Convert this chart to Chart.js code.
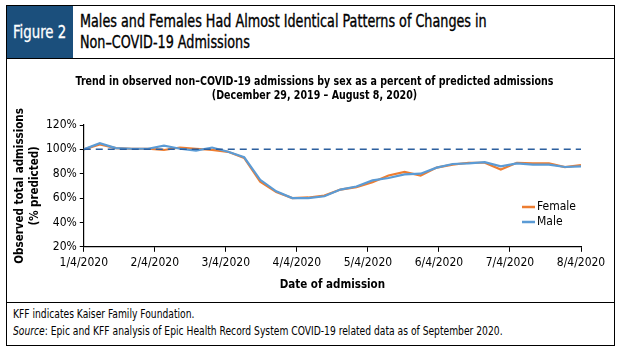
<!DOCTYPE html>
<html>
<head>
<meta charset="utf-8">
<script src="https://cdn.jsdelivr.net/npm/chart.js@4.4.0/dist/chart.umd.min.js"></script>
<style>
  body { margin: 0; background: #fff; font-family: "DejaVu Sans Condensed", "Liberation Sans", Arial, sans-serif; }
  #frame { position: absolute; left: 6px; top: 5px; width: 607px; height: 339px; border: 1px solid #000; }
  #head { position: absolute; left: 0; top: 0; width: 607px; height: 52px; border-bottom: 1px solid #000; }
  #fig { position: absolute; left: 0; top: 0; width: 66px; height: 52px; background: #1b4f7c; color: #fff;
         font-size: 17px; line-height: 52px; text-align: center; -webkit-text-stroke: 0.3px #fff; }
  #fig span { display: inline-block; transform: scaleX(0.87); }
  #title { position: absolute; left: 73px; top: 5px; font-size: 17px; line-height: 21px; color: #000;
           transform: scaleX(0.835); transform-origin: left top; white-space: nowrap; -webkit-text-stroke: 0.35px #000; }
  #wrap { position: absolute; left: 0; top: 53px; width: 607px; height: 243px; }
  #ctitle { position: absolute; left: 4px; top: 15px; width: 607px; text-align: center; font-size: 12px;
            font-weight: bold; line-height: 14px; transform: scaleX(0.88); white-space: nowrap; }
  #foot { position: absolute; left: 0; top: 296px; width: 607px; height: 43px; border-top: 1px solid #000;
          font-size: 12px; line-height: 17px; padding-left: 6px; padding-top: 3px; box-sizing: border-box; }
  #foot div { transform: scaleX(0.85); transform-origin: left center; white-space: nowrap; }
</style>
</head>
<body>
<div id="frame">
  <div id="head">
    <div id="fig"><span>Figure 2</span></div>
    <div id="title">Males and Females Had Almost Identical Patterns of Changes in<br>Non–COVID-19 Admissions</div>
  </div>
  <div id="wrap">
    <canvas id="chart" width="607" height="243"></canvas>
    <div id="ctitle">Trend in observed non–COVID-19 admissions by sex as a percent of predicted admissions<br>(December 29, 2019 – August 8, 2020)</div>
  </div>
  <div id="foot">
    <div>KFF indicates Kaiser Family Foundation.</div>
    <div><i>Source</i>: Epic and KFF analysis of Epic Health Record System COVID-19 related data as of September 2020.</div>
  </div>
</div>
<script>
// Ukentlige verdier, 1/4/2020 - 8/8/2020 (% av forventet)
const female = [100, 104, 101, 100.5, 100.5, 99.5, 101.5, 100.5, 99.5, 98, 93, 73.5, 65, 60, 60.5, 62,
  67, 69, 73, 78.5, 81.5, 78.5, 85, 87.5, 89, 89, 83.5, 89, 88.5, 88.5, 85.5, 87];
const male = [100, 105, 101, 100.5, 100.5, 103, 100.5, 99, 101.5, 98, 93.5, 75, 65.5, 60, 60, 61.5,
  67, 69.5, 74.5, 76.5, 79.5, 80, 85, 88, 88.5, 89.5, 86, 88.5, 87.5, 87.5, 85.5, 86];
const xTickLabels = ['1/4/2020', '2/4/2020', '3/4/2020', '4/4/2020', '5/4/2020', '6/4/2020', '7/4/2020', '8/4/2020'];
const yTicks = [20, 40, 60, 80, 100, 120];
const baseline = 100;

const FONT = '"DejaVu Sans Condensed", "Liberation Sans", Arial, sans-serif';
const lastIdx = female.length - 1;

// Stiplet referanselinje ved 100 %
const baselinePlugin = {
  id: 'baseline',
  afterDatasetsDraw(chart) {
    const { ctx, chartArea, scales } = chart;
    const y = scales.y.getPixelForValue(baseline);
    ctx.save();
    ctx.strokeStyle = '#2c5f9e';
    ctx.lineWidth = 1.5;
    ctx.setLineDash([7, 5]);
    ctx.beginPath();
    ctx.moveTo(chartArea.left, y);
    ctx.lineTo(chartArea.right, y);
    ctx.stroke();
    ctx.restore();
  }
};

// Forklaring inne i plottet
const legendPlugin = {
  id: 'innerLegend',
  afterDraw(chart) {
    const { ctx, chartArea } = chart;
    ctx.save();
    ctx.font = '12px ' + FONT;
    ctx.textBaseline = 'middle';
    chart.data.datasets.forEach((ds, i) => {
      const x = chartArea.right - 59;
      const y = chartArea.top + 82 + i * 15;
      ctx.strokeStyle = ds.borderColor;
      ctx.lineWidth = 2.5;
      ctx.beginPath();
      ctx.moveTo(x, y);
      ctx.lineTo(x + 13, y);
      ctx.stroke();
      ctx.fillStyle = '#000';
      ctx.fillText(ds.label, x + 15, y);
    });
    ctx.restore();
  }
};

const ctx = document.getElementById('chart').getContext('2d');
new Chart(ctx, {
  type: 'line',
  data: {
    datasets: [
      { label: 'Female', order: 2, data: female.map((v, i) => ({ x: i, y: v })), borderColor: '#ed7d31', borderWidth: 2.2, pointRadius: 0, tension: 0 },
      { label: 'Male', order: 1, data: male.map((v, i) => ({ x: i, y: v })), borderColor: '#5b9bd5', borderWidth: 2.2, pointRadius: 0, tension: 0 }
    ]
  },
  options: {
    responsive: false,
    animation: false,
    layout: { padding: { left: 6, right: 33, top: 66, bottom: 6 } },
    plugins: {
      legend: { display: false },
      tooltip: { enabled: false }
    },
    scales: {
      x: {
        type: 'linear',
        min: 0,
        max: lastIdx,
        afterBuildTicks: (scale) => {
          scale.ticks = xTickLabels.map((l, i) => ({ value: i * lastIdx / (xTickLabels.length - 1) }));
        },
        ticks: {
          autoSkip: false,
          maxRotation: 0,
          color: '#000',
          font: { family: FONT, size: 12 },
          padding: 4,
          callback: (v, i) => xTickLabels[i]
        },
        grid: { display: true, drawOnChartArea: false, drawTicks: true, tickLength: 5, color: '#000' },
        border: { color: '#000', width: 1.2 },
        title: { display: true, text: 'Date of admission', color: '#000', font: { family: FONT, size: 11.5, weight: 'bold' }, padding: { top: 4, bottom: 4 } }
      },
      y: {
        min: 20,
        max: 120,
        afterBuildTicks: (scale) => { scale.ticks = yTicks.map(v => ({ value: v })); },
        ticks: {
          color: '#000',
          font: { family: FONT, size: 12 },
          padding: 3,
          callback: (v) => v + '%'
        },
        grid: { display: true, drawOnChartArea: false, drawTicks: true, tickLength: 4, color: '#000' },
        border: { color: '#000', width: 1.2 },
        title: { display: true, text: ['Observed total admissions', '(% predicted)'], color: '#000', font: { family: FONT, size: 11.5, weight: 'bold', lineHeight: 1.3 }, padding: { top: 0, bottom: 0 } }
      }
    }
  },
  plugins: [baselinePlugin, legendPlugin]
});
</script>
</body>
</html>
